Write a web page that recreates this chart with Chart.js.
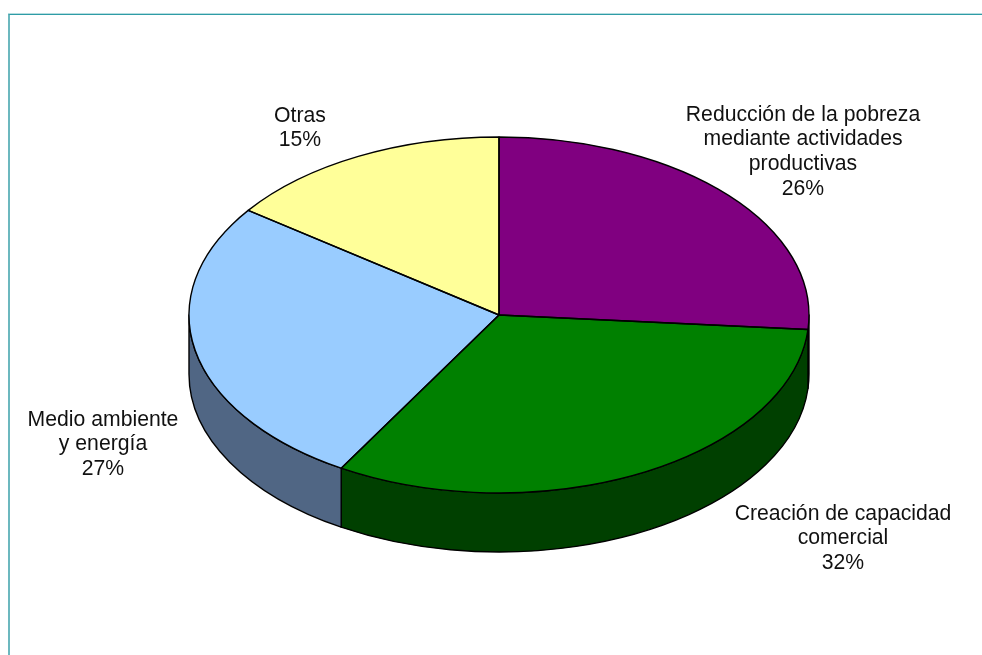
<!DOCTYPE html>
<html lang="es">
<head>
<meta charset="utf-8">
<title>Pie</title>
<script src="https://cdn.jsdelivr.net/npm/chart.js@4"></script>
<style>
  html, body { margin: 0; padding: 0; background: #fff; overflow: hidden; }
  #frame {
    position: absolute; left: 8px; top: 14px; width: 974px; height: 641px;
    box-sizing: border-box;
    border-top: 1px solid #2e9ca6; border-left: 2px solid #6cb8bf;
    box-shadow: 0 -1px 0 #b5dde0;
  }
  #pie { position: absolute; left: 0; top: 0; }
</style>
</head>
<body>
<div id="frame"></div>
<canvas id="pie" width="982" height="655"></canvas>
<script>
const categories = [
  ['Reducción de la pobreza', 'mediante actividades', 'productivas'],
  ['Creación de capacidad', 'comercial'],
  ['Medio ambiente', 'y energía'],
  ['Otras']
];
const shares = [26.3, 32.2, 26.5, 15.0];
const percentLabels = ['26%', '32%', '27%', '15%'];
const topColors = ['#800080', '#008000', '#99CCFF', '#FFFF99'];
const sideColors = ['#400040', '#004000', '#506684', '#808050'];

// label centre and first row, pixels on the page
const labelSpots = [[803, 115], [843, 514], [103, 420], [300, 116]];

const SQUASH = 178 / 310;   // how flat the disc is
const DEPTH = 59;           // height of the side wall
const LINE = 1.4;

function arcsOf(chart) {
  return chart.getDatasetMeta(0).data.map(a =>
    a.getProps(['x', 'y', 'startAngle', 'endAngle', 'outerRadius'], true));
}

const tiltedPie = {
  id: 'tiltedPie',
  beforeDatasetsDraw(chart) {
    // side wall first, only the part facing us (0..PI on the canvas)
    const ctx = chart.ctx;
    arcsOf(chart).forEach((a, i) => {
      const from = Math.max(a.startAngle, 0);
      const to = Math.min(a.endAngle, Math.PI);
      if (to <= from) return;
      const ry = a.outerRadius * SQUASH;
      ctx.beginPath();
      ctx.ellipse(a.x, a.y, a.outerRadius, ry, 0, from, to);
      ctx.ellipse(a.x, a.y + DEPTH, a.outerRadius, ry, 0, to, from, true);
      ctx.closePath();
      ctx.fillStyle = sideColors[i];
      ctx.strokeStyle = '#000';
      ctx.lineWidth = LINE;
      ctx.lineJoin = 'round';
      ctx.fill();
      ctx.stroke();
    });
  },
  beforeDatasetDraw(chart) {
    const ctx = chart.ctx;
    const { x, y } = arcsOf(chart)[0];
    ctx.save();
    ctx.translate(x, y);
    ctx.scale(1, SQUASH);
    ctx.translate(-x, -y);
  },
  afterDatasetDraw(chart) {
    chart.ctx.restore();
  },
  afterDatasetsDraw(chart) {
    // outlines here so the flattening does not thin them out
    const ctx = chart.ctx;
    arcsOf(chart).forEach(a => {
      ctx.beginPath();
      ctx.moveTo(a.x, a.y);
      ctx.ellipse(a.x, a.y, a.outerRadius, a.outerRadius * SQUASH, 0, a.startAngle, a.endAngle);
      ctx.closePath();
      ctx.strokeStyle = '#000';
      ctx.lineWidth = LINE;
      ctx.lineJoin = 'round';
      ctx.stroke();
    });

    ctx.fillStyle = '#111';
    ctx.font = '21.2px "Liberation Sans", Arial, sans-serif';
    ctx.textAlign = 'center';
    ctx.textBaseline = 'middle';
    categories.forEach((lines, i) => {
      const [cx, top] = labelSpots[i];
      [...lines, percentLabels[i]].forEach((t, n) => ctx.fillText(t, cx, top + n * 24.6));
    });
  }
};

new Chart(document.getElementById('pie'), {
  type: 'pie',
  data: {
    labels: categories.map(c => c.join(' ')),
    datasets: [{
      data: shares,
      backgroundColor: topColors,
      borderWidth: 0
    }]
  },
  options: {
    responsive: false,
    animation: false,
    layout: { padding: { left: 189, right: 173, top: 5, bottom: 30 } },
    plugins: {
      legend: { display: false },
      tooltip: { enabled: false }
    }
  },
  plugins: [tiltedPie]
});
</script>
</body>
</html>
